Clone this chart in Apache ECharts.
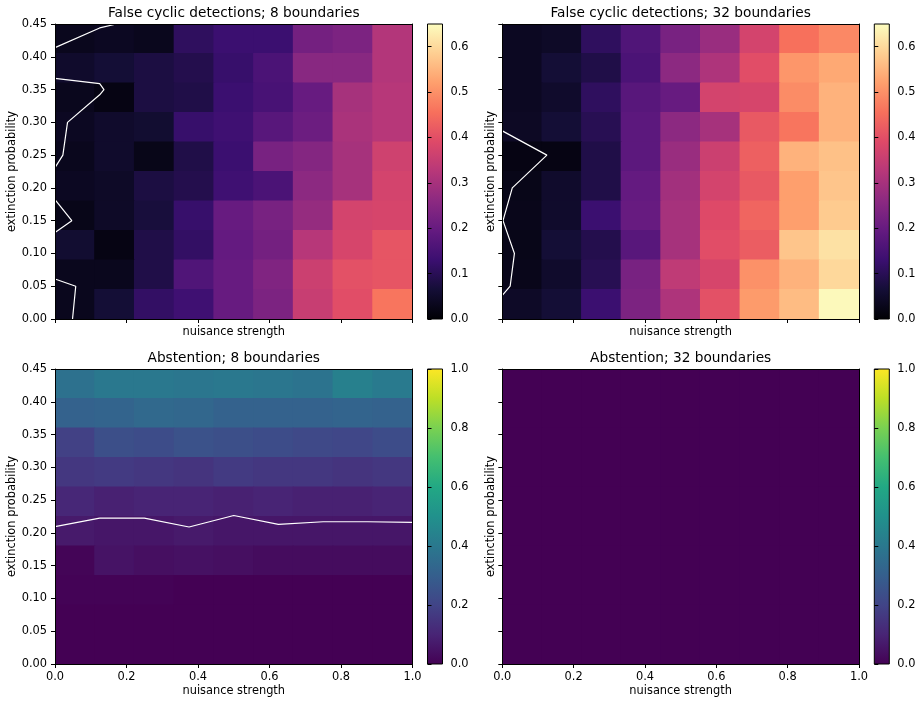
<!DOCTYPE html>
<html>
<head>
<meta charset="utf-8">
<script src="https://cdn.jsdelivr.net/npm/echarts@6/dist/echarts.min.js"></script>
<style>
  html, body { margin: 0; padding: 0; background: #fff; }
  #main { width: 922px; height: 706px; }
</style>
</head>
<body>
<div id="main"></div>
<script>
// grid of the experiment (column / row centres)
var nuisance = [0, 0.125, 0.25, 0.375, 0.5, 0.625, 0.75, 0.875, 1];
var extinction = [0, 0.05, 0.1, 0.15, 0.2, 0.25, 0.3, 0.35, 0.4, 0.45];

// rows listed from extinction 0.45 (top) down to 0.00 (bottom)
var falseCyclic8 = [
  [0.033, 0.039, 0.033, 0.110, 0.130, 0.130, 0.221, 0.234, 0.319],
  [0.052, 0.065, 0.078, 0.091, 0.124, 0.156, 0.254, 0.254, 0.319],
  [0.033, 0.020, 0.078, 0.085, 0.130, 0.150, 0.200, 0.300, 0.325],
  [0.039, 0.052, 0.059, 0.124, 0.137, 0.176, 0.208, 0.306, 0.325],
  [0.033, 0.052, 0.026, 0.085, 0.130, 0.228, 0.247, 0.300, 0.364],
  [0.039, 0.046, 0.078, 0.091, 0.137, 0.156, 0.260, 0.300, 0.371],
  [0.026, 0.046, 0.072, 0.124, 0.200, 0.228, 0.273, 0.371, 0.377],
  [0.059, 0.020, 0.085, 0.117, 0.195, 0.221, 0.325, 0.377, 0.410],
  [0.033, 0.033, 0.085, 0.163, 0.200, 0.240, 0.358, 0.403, 0.410],
  [0.033, 0.065, 0.117, 0.137, 0.200, 0.234, 0.351, 0.397, 0.462]
];
var falseCyclic32 = [
  [0.039, 0.046, 0.110, 0.163, 0.228, 0.280, 0.371, 0.455, 0.488],
  [0.039, 0.065, 0.085, 0.156, 0.260, 0.312, 0.397, 0.507, 0.533],
  [0.039, 0.052, 0.110, 0.176, 0.200, 0.371, 0.377, 0.494, 0.546],
  [0.042, 0.065, 0.098, 0.182, 0.260, 0.300, 0.416, 0.462, 0.546],
  [0.020, 0.020, 0.085, 0.182, 0.280, 0.358, 0.429, 0.546, 0.566],
  [0.026, 0.052, 0.085, 0.195, 0.293, 0.371, 0.416, 0.520, 0.572],
  [0.029, 0.052, 0.130, 0.200, 0.300, 0.390, 0.436, 0.520, 0.579],
  [0.026, 0.065, 0.091, 0.176, 0.300, 0.397, 0.423, 0.572, 0.611],
  [0.029, 0.052, 0.098, 0.228, 0.338, 0.377, 0.500, 0.546, 0.598],
  [0.046, 0.065, 0.130, 0.234, 0.312, 0.403, 0.514, 0.559, 0.644]
];
var abstention8 = [
  [0.37, 0.40, 0.40, 0.39, 0.40, 0.39, 0.38, 0.43, 0.41],
  [0.31, 0.32, 0.34, 0.33, 0.31, 0.31, 0.31, 0.32, 0.31],
  [0.19, 0.24, 0.23, 0.25, 0.24, 0.23, 0.22, 0.21, 0.23],
  [0.16, 0.17, 0.16, 0.15, 0.17, 0.16, 0.16, 0.15, 0.16],
  [0.11, 0.09, 0.10, 0.10, 0.09, 0.10, 0.09, 0.09, 0.10],
  [0.07, 0.06, 0.06, 0.07, 0.06, 0.06, 0.06, 0.06, 0.06],
  [0.01, 0.05, 0.04, 0.045, 0.04, 0.03, 0.03, 0.03, 0.03],
  [0.005, 0.005, 0.005, 0, 0, 0, 0, 0, 0],
  [0, 0, 0, 0, 0, 0, 0, 0, 0],
  [0, 0, 0, 0, 0, 0, 0, 0, 0]
];
var abstention32 = [
  [0, 0, 0, 0, 0, 0, 0, 0, 0],
  [0, 0, 0, 0, 0, 0, 0, 0, 0],
  [0, 0, 0, 0, 0, 0, 0, 0, 0],
  [0, 0, 0, 0, 0, 0, 0, 0, 0],
  [0, 0, 0, 0, 0, 0, 0, 0, 0],
  [0, 0, 0, 0, 0, 0, 0, 0, 0],
  [0, 0, 0, 0, 0, 0, 0, 0, 0],
  [0, 0, 0, 0, 0, 0, 0, 0, 0],
  [0, 0, 0, 0, 0, 0, 0, 0, 0],
  [0, 0, 0, 0, 0, 0, 0, 0, 0]
];

// white contour lines, [nuisance, extinction] vertices
var contour8 = [
  [[0, 0.414], [0.125, 0.444], [0.172, 0.45]],
  [[0, 0.367], [0.125, 0.359], [0.137, 0.35], [0.125, 0.342], [0.035, 0.30], [0.022, 0.25], [0, 0.231]],
  [[0, 0.182], [0.047, 0.15], [0, 0.132]],
  [[0, 0.061], [0.058, 0.05], [0.049, 0]]
];
var contour32 = [
  [[0, 0.287], [0.125, 0.25], [0.028, 0.20], [0.002, 0.15], [0.034, 0.10], [0.022, 0.05], [0, 0.036]]
];
var contourAbst8 = [
  [[0, 0.2095], [0.125, 0.2225], [0.25, 0.2225], [0.375, 0.209], [0.5, 0.2265], [0.625, 0.213], [0.75, 0.217], [0.875, 0.217], [1, 0.216]]
];
var contourAbst32 = [];

var cbTicksFalse = [0, 0.1, 0.2, 0.3, 0.4, 0.5, 0.6];
var cbTicksAbst = [0, 0.2, 0.4, 0.6, 0.8, 1.0];

var magma = ['#000004', '#140e36', '#3b0f70', '#641a80', '#8c2981', '#b73779',
  '#de4968', '#f7705c', '#fe9f6d', '#fecf92', '#fcfdbf'];
var viridis = ['#440154', '#482475', '#414487', '#355f8d', '#2a788e', '#21918c',
  '#22a884', '#44bf70', '#7ad151', '#bddf26', '#fde725'];

var font = 'DejaVu Sans';
var black = '#000';

function toCells(rows) {
  var out = [];
  rows.forEach(function (row, r) {
    row.forEach(function (v, c) {
      out.push([c, rows.length - 1 - r, v]);
    });
  });
  return out;
}

// one cell, slightly overlapped so no seams show between neighbours
function renderCell(params, api) {
  var c = api.coord([api.value(0), api.value(1)]);
  var s = api.size([1, 1]);
  return {
    type: 'rect',
    shape: { x: c[0] - s[0] / 2 - 0.5, y: c[1] - s[1] / 2 - 0.5, width: s[0] + 1, height: s[1] + 1 },
    style: { fill: api.visual('color') }
  };
}

var panels = [
  { title: 'False cyclic detections; 8 boundaries', rows: falseCyclic8, lines: contour8,
    left: 55, top: 24, width: 357.5, cbLeft: 427.5, cmap: 0, vmax: 0.65, cbTicks: cbTicksFalse,
    xLabels: false, yLabels: true },
  { title: 'False cyclic detections; 32 boundaries', rows: falseCyclic32, lines: contour32,
    left: 502.3, top: 24, width: 356.7, cbLeft: 874.3, cmap: 0, vmax: 0.65, cbTicks: cbTicksFalse,
    xLabels: false, yLabels: false },
  { title: 'Abstention; 8 boundaries', rows: abstention8, lines: contourAbst8,
    left: 55, top: 369, width: 357.5, cbLeft: 427.5, cmap: 1, vmax: 1, cbTicks: cbTicksAbst,
    xLabels: true, yLabels: true },
  { title: 'Abstention; 32 boundaries', rows: abstention32, lines: contourAbst32,
    left: 502.3, top: 369, width: 356.7, cbLeft: 874.3, cmap: 1, vmax: 1, cbTicks: cbTicksAbst,
    xLabels: true, yLabels: false }
];

var H = 295;
var grids = [], xAxes = [], yAxes = [], series = [], titles = [];
var heatIdx = [[], []];
var lineSt = { color: black, width: 1 };
var labelSt = { color: black, fontFamily: font, fontSize: 11.4 };

panels.forEach(function (p) {
  var g = grids.length;
  grids.push({ left: p.left, top: p.top, width: p.width, height: H });
  titles.push({
    text: p.title, left: p.left + p.width / 2, top: p.top - 18, textAlign: 'center', padding: 0,
    textStyle: { color: black, fontFamily: font, fontSize: 13.7, fontWeight: 'normal' }
  });

  // category axes carry the cells, drawn as top/right frame lines
  var xc = xAxes.length;
  xAxes.push({ type: 'category', gridIndex: g, position: 'top', data: nuisance, z: 10,
    axisLine: { onZero: false, lineStyle: lineSt }, axisTick: { show: false }, axisLabel: { show: false } });
  var yc = yAxes.length;
  yAxes.push({ type: 'category', gridIndex: g, position: 'right', data: extinction, z: 10,
    axisLine: { onZero: false, lineStyle: lineSt }, axisTick: { show: false }, axisLabel: { show: false } });

  // value axes give the ticks and carry the contours
  var xv = xAxes.length;
  xAxes.push({ type: 'value', gridIndex: g, position: 'bottom', min: 0, max: 1, interval: 0.2, z: 10,
    axisLine: { onZero: false, lineStyle: lineSt },
    axisTick: { length: 4, lineStyle: lineSt },
    axisLabel: { show: p.xLabels, margin: 8, formatter: function (v) { return v.toFixed(1); }, ...labelSt },
    splitLine: { show: false },
    name: 'nuisance strength', nameLocation: 'middle', nameGap: p.xLabels ? 22 : 7.5,
    nameTextStyle: labelSt });
  var yv = yAxes.length;
  yAxes.push({ type: 'value', gridIndex: g, position: 'left', min: 0, max: 0.45, interval: 0.05, z: 10,
    axisLine: { onZero: false, lineStyle: lineSt },
    axisTick: { length: 4, lineStyle: lineSt },
    axisLabel: { show: p.yLabels, margin: 8, formatter: function (v) { return v.toFixed(2); }, ...labelSt },
    splitLine: { show: false },
    name: 'extinction probability', nameLocation: 'middle', nameRotate: 90, nameGap: p.yLabels ? 36 : 6,
    nameTextStyle: labelSt });

  heatIdx[p.cmap].push(series.length);
  series.push({ type: 'custom', xAxisIndex: xc, yAxisIndex: yc, data: toCells(p.rows),
    encode: { x: 0, y: 1 }, renderItem: renderCell, clip: true, silent: true, animation: false });

  p.lines.forEach(function (piece) {
    series.push({ type: 'line', xAxisIndex: xv, yAxisIndex: yv, data: piece, symbol: 'none',
      lineStyle: { color: '#fff', width: 1.2 }, z: 5, silent: true, animation: false });
  });

  // colorbar
  var cg = grids.length;
  grids.push({ left: p.cbLeft, top: p.top, width: 15, height: H });
  var cx = xAxes.length;
  xAxes.push({ type: 'value', gridIndex: cg, min: 0, max: 1, show: false });
  var cy = yAxes.length;
  yAxes.push({ type: 'value', gridIndex: cg, position: 'right', min: 0, max: p.vmax, z: 10,
    axisLine: { show: false },
    axisTick: { length: 4, lineStyle: lineSt, customValues: p.cbTicks },
    axisLabel: { margin: 8, customValues: p.cbTicks, formatter: function (v) { return v.toFixed(1); }, ...labelSt },
    splitLine: { show: false } });
  var colors = p.cmap === 0 ? magma : viridis;
  var stops = colors.map(function (c, i) { return { offset: i / (colors.length - 1), color: c }; });
  series.push({ type: 'custom', xAxisIndex: cx, yAxisIndex: cy, data: [[0, 0]], silent: true, animation: false,
    renderItem: function (params, api) {
      var a = api.coord([0, p.vmax]);
      var b = api.coord([1, 0]);
      return { type: 'rect', shape: { x: a[0], y: a[1], width: b[0] - a[0], height: b[1] - a[1] },
        style: { fill: new echarts.graphic.LinearGradient(0, 1, 0, 0, stops), stroke: black, lineWidth: 1 } };
    } });
});

var chart = echarts.init(document.getElementById('main'));
chart.setOption({
  backgroundColor: '#fff',
  animation: false,
  title: titles,
  grid: grids,
  xAxis: xAxes,
  yAxis: yAxes,
  visualMap: [
    { type: 'continuous', show: false, min: 0, max: 0.65, dimension: 2, seriesIndex: heatIdx[0], inRange: { color: magma } },
    { type: 'continuous', show: false, min: 0, max: 1, dimension: 2, seriesIndex: heatIdx[1], inRange: { color: viridis } }
  ],
  series: series
});
</script>
</body>
</html>
